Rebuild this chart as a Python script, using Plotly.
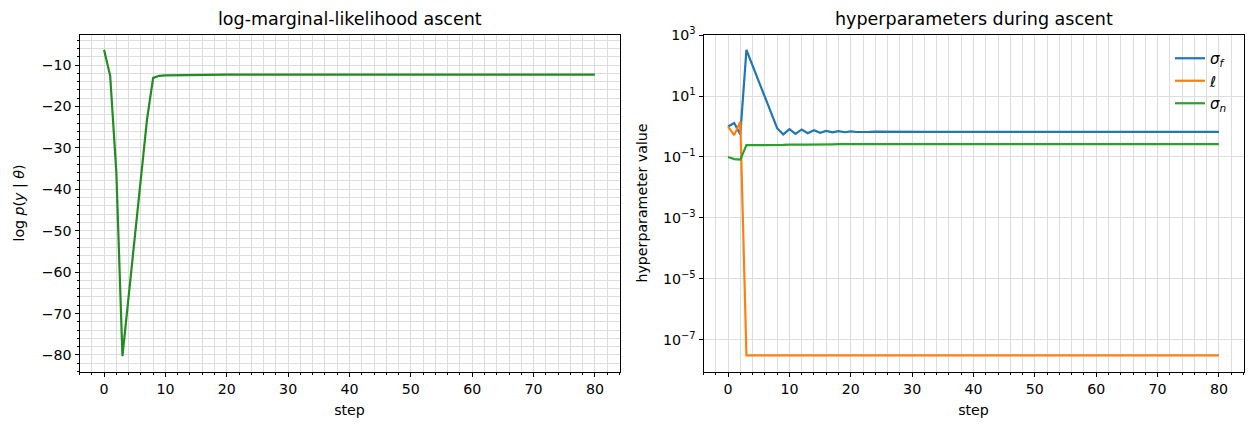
import plotly.graph_objects as go

# values
steps = list(range(81))

log_ml = [
    -6.33, -12.6, -35.8, -80.3, -66.0, -51.7, -37.4, -23.2, -13.1, -12.6,
    -12.5, -12.47, -12.45, -12.42, -12.4, -12.38, -12.37, -12.36, -12.35, -12.35,
    -12.34, -12.34, -12.34, -12.34, -12.34, -12.34, -12.34, -12.34, -12.34, -12.34,
    -12.34, -12.34, -12.34, -12.34, -12.34, -12.34, -12.34, -12.34, -12.34, -12.34,
    -12.34, -12.34, -12.34, -12.34, -12.34, -12.34, -12.34, -12.34, -12.34, -12.34,
    -12.34, -12.34, -12.34, -12.34, -12.34, -12.34, -12.34, -12.34, -12.34, -12.34,
    -12.34, -12.34, -12.34, -12.34, -12.34, -12.34, -12.34, -12.34, -12.34, -12.34,
    -12.34, -12.34, -12.34, -12.34, -12.34, -12.34, -12.34, -12.34, -12.34, -12.34,
    -12.34,
]

sigma_f = [
    1.0, 1.3, 0.55, 330, 100, 30, 9.3, 2.9, 0.88, 0.55,
    0.82, 0.57, 0.8, 0.6, 0.76, 0.62, 0.72, 0.64, 0.7, 0.65,
    0.69, 0.66, 0.68, 0.665, 0.675, 0.67, 0.67, 0.67, 0.67, 0.67,
    0.67, 0.67, 0.67, 0.67, 0.67, 0.67, 0.67, 0.67, 0.67, 0.67,
    0.67, 0.67, 0.67, 0.67, 0.67, 0.67, 0.67, 0.67, 0.67, 0.67,
    0.67, 0.67, 0.67, 0.67, 0.67, 0.67, 0.67, 0.67, 0.67, 0.67,
    0.67, 0.67, 0.67, 0.67, 0.67, 0.67, 0.67, 0.67, 0.67, 0.67,
    0.67, 0.67, 0.67, 0.67, 0.67, 0.67, 0.67, 0.67, 0.67, 0.67,
    0.67,
]

length_scale = [
    1.0, 0.52, 1.45, 3.1e-8, 3.1e-8, 3.1e-8, 3.1e-8, 3.1e-8, 3.1e-8, 3.1e-8,
    3.1e-8, 3.1e-8, 3.1e-8, 3.1e-8, 3.1e-8, 3.1e-8, 3.1e-8, 3.1e-8, 3.1e-8, 3.1e-8,
    3.1e-8, 3.1e-8, 3.1e-8, 3.1e-8, 3.1e-8, 3.1e-8, 3.1e-8, 3.1e-8, 3.1e-8, 3.1e-8,
    3.1e-8, 3.1e-8, 3.1e-8, 3.1e-8, 3.1e-8, 3.1e-8, 3.1e-8, 3.1e-8, 3.1e-8, 3.1e-8,
    3.1e-8, 3.1e-8, 3.1e-8, 3.1e-8, 3.1e-8, 3.1e-8, 3.1e-8, 3.1e-8, 3.1e-8, 3.1e-8,
    3.1e-8, 3.1e-8, 3.1e-8, 3.1e-8, 3.1e-8, 3.1e-8, 3.1e-8, 3.1e-8, 3.1e-8, 3.1e-8,
    3.1e-8, 3.1e-8, 3.1e-8, 3.1e-8, 3.1e-8, 3.1e-8, 3.1e-8, 3.1e-8, 3.1e-8, 3.1e-8,
    3.1e-8, 3.1e-8, 3.1e-8, 3.1e-8, 3.1e-8, 3.1e-8, 3.1e-8, 3.1e-8, 3.1e-8, 3.1e-8,
    3.1e-8,
]

sigma_n = [
    0.1, 0.085, 0.082, 0.245, 0.245, 0.245, 0.244, 0.242, 0.238, 0.25,
    0.255, 0.25, 0.256, 0.255, 0.26, 0.258, 0.262, 0.261, 0.263, 0.263,
    0.264, 0.264, 0.264, 0.265, 0.265, 0.265, 0.265, 0.265, 0.265, 0.265,
    0.265, 0.265, 0.265, 0.265, 0.265, 0.265, 0.265, 0.265, 0.265, 0.265,
    0.265, 0.265, 0.265, 0.265, 0.265, 0.265, 0.265, 0.265, 0.265, 0.265,
    0.265, 0.265, 0.265, 0.265, 0.265, 0.265, 0.265, 0.265, 0.265, 0.265,
    0.265, 0.265, 0.265, 0.265, 0.265, 0.265, 0.265, 0.265, 0.265, 0.265,
    0.265, 0.265, 0.265, 0.265, 0.265, 0.265, 0.265, 0.265, 0.265, 0.265,
    0.265,
]

log_tickvals = [1e3, 1e1, 1e-1, 1e-3, 1e-5, 1e-7]
log_ticktext = ["10<sup>3</sup>", "10<sup>1</sup>", "10<sup>\u22121</sup>",
                "10<sup>\u22123</sup>", "10<sup>\u22125</sup>", "10<sup>\u22127</sup>"]

W, H = 1253, 429
FONT = "DejaVu Sans, Liberation Sans, sans-serif"
GRID = "#dddddd"
TICK = 14.2
LW = 2.2

fig = go.Figure()

fig.add_trace(go.Scatter(x=steps, y=log_ml, mode="lines", line=dict(color="#228b22", width=LW),
                         showlegend=False, xaxis="x", yaxis="y"))

fig.add_trace(go.Scatter(x=steps, y=sigma_f, mode="lines", line=dict(color="#1f77b4", width=LW),
                         name="<i>σ<sub>f</sub></i>", xaxis="x2", yaxis="y2"))
fig.add_trace(go.Scatter(x=steps, y=length_scale, mode="lines", line=dict(color="#ff7f0e", width=LW),
                         name="<i>ℓ</i>", xaxis="x2", yaxis="y2"))
fig.add_trace(go.Scatter(x=steps, y=sigma_n, mode="lines", line=dict(color="#2ca02c", width=LW),
                         name="<i>σ<sub>n</sub></i>", xaxis="x2", yaxis="y2"))

y_bot = 1 - 371.5 / H
y_top = 1 - 34.5 / H

common_x = dict(
    range=[-4, 84], dtick=10, tick0=0, ticks="outside", ticklen=4, tickcolor="black",
    showline=True, linecolor="black", linewidth=1, mirror=True, zeroline=False,
    showgrid=True, gridcolor=GRID, gridwidth=1,
    minor=dict(dtick=2, ticks="outside", ticklen=2, tickcolor="black", showgrid=True, gridcolor=GRID),
    title=dict(text="step", standoff=9, font=dict(size=TICK)),
    tickfont=dict(size=TICK), automargin=False,
)

fig.update_layout(
    width=W, height=H,
    margin=dict(l=0, r=0, t=0, b=0),
    paper_bgcolor="white", plot_bgcolor="white",
    font=dict(family=FONT, color="black", size=TICK),
    xaxis=dict(domain=[79.5 / W, 619.5 / W], anchor="y", **common_x),
    yaxis=dict(
        domain=[y_bot, y_top], anchor="x", range=[-84.0, -2.63], dtick=10, tick0=0,
        ticks="outside", ticklen=4, tickcolor="black",
        showline=True, linecolor="black", linewidth=1, mirror=True, zeroline=False,
        showgrid=True, gridcolor=GRID,
        minor=dict(dtick=2, ticks="outside", ticklen=2, tickcolor="black", showgrid=True, gridcolor=GRID),
        title=dict(text="log <i>p</i>(<i>y</i> | <i>θ</i>)", standoff=13, font=dict(size=TICK)),
        tickfont=dict(size=TICK), automargin=False,
    ),
    xaxis2=dict(domain=[703.5 / W, 1243.5 / W], anchor="y2", **common_x),
    yaxis2=dict(
        domain=[y_bot, y_top], anchor="x2", type="log", range=[-8.04, 3.02],
        tickvals=log_tickvals, ticktext=log_ticktext,
        ticks="outside", ticklen=4, tickcolor="black",
        showline=True, linecolor="black", linewidth=1, mirror=True, zeroline=False,
        showgrid=True, gridcolor=GRID,
        title=dict(text="hyperparameter value", standoff=11, font=dict(size=TICK)),
        tickfont=dict(size=TICK), automargin=False,
    ),
    legend=dict(
        x=1232 / W, y=1 - 42 / H, xanchor="right", yanchor="top",
        bgcolor="rgba(0,0,0,0)", borderwidth=0, font=dict(size=15),
        tracegroupgap=3,
    ),
    annotations=[
        dict(text="log-marginal-likelihood ascent", x=(79.5 + 619.5) / 2 / W, y=y_top,
             xref="paper", yref="paper", xanchor="center", yanchor="bottom", yshift=3,
             showarrow=False, font=dict(size=17.5)),
        dict(text="hyperparameters during ascent", x=(703.5 + 1243.5) / 2 / W, y=y_top,
             xref="paper", yref="paper", xanchor="center", yanchor="bottom", yshift=3,
             showarrow=False, font=dict(size=17.5)),
    ],
)

fig.write_html(
    "out.html",
    config={"displayModeBar": False},
    post_script="document.body.style.margin='0';document.body.style.overflow='hidden';",
)
